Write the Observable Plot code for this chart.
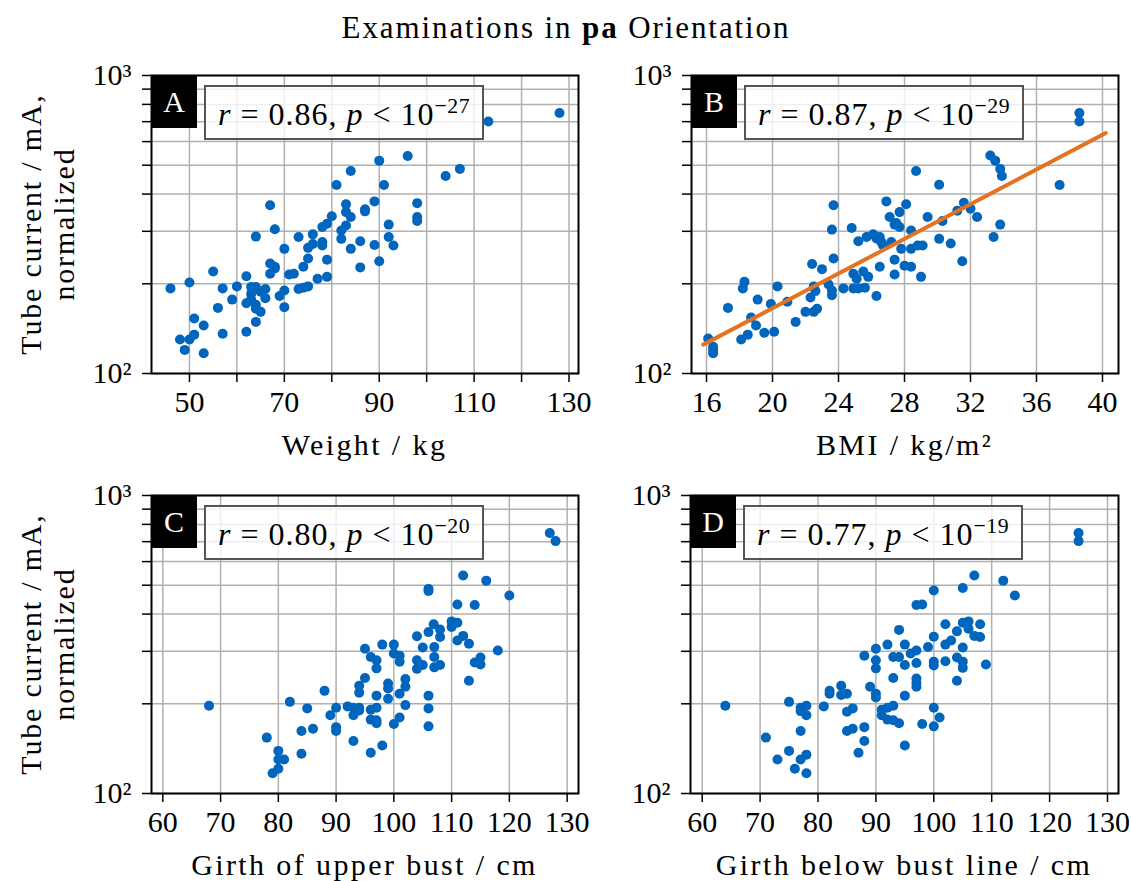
<!DOCTYPE html>
<html>
<head>
<meta charset="utf-8">
<script src="https://cdn.jsdelivr.net/npm/d3@7"></script>
<script src="https://cdn.jsdelivr.net/npm/@observablehq/plot@0.6"></script>
<style>
  html, body { margin: 0; padding: 0; background: #fff; }
  #root { position: relative; width: 1132px; height: 881px; overflow: hidden; font-family: "Liberation Serif", "DejaVu Serif", serif; color: #000; }
  .panel { position: absolute; }
  .title { position: absolute; left: 0; top: 13px; width: 1132px; text-align: center; font-size: 31px; line-height: 30px; letter-spacing: 1.9px; }
  .ylab { position: absolute; width: 340px; text-align: center; font-size: 30px; line-height: 33px; letter-spacing: 1.8px; transform: rotate(-90deg); transform-origin: center center; }
  .xlab { position: absolute; width: 500px; text-align: center; font-size: 30px; line-height: 30px; letter-spacing: 2.4px; white-space: nowrap; }
  .letter { position: absolute; width: 46px; height: 53px; background: #000; color: #fff; font-size: 30px; display: flex; align-items: center; justify-content: center; }
  .stat { position: absolute; width: 280px; height: 55px; box-sizing: border-box; border: 2px solid #555; background: rgba(255,255,255,0.8); font-size: 32px; display: flex; align-items: center; justify-content: center; white-space: nowrap; letter-spacing: 1px; padding-top: 4px; }
  .stat sup { font-size: 0.68em; vertical-align: 0.55em; line-height: 0; letter-spacing: 0.5px; }
</style>
</head>
<body>
<div id="root"></div>
<script>
// ---------------- data ----------------
const titleText = ["Examinations in ", "pa", " Orientation"];
const yLabelLines = ["Tube current / mA,", "normalized"];
const xLabels = ["Weight / kg", "BMI / kg/m²", "Girth of upper bust / cm", "Girth below bust line / cm"];
const panelLetters = ["A", "B", "C", "D"];
const rValues = ["0.86", "0.87", "0.80", "0.77"];
const pExponents = ["−27", "−29", "−20", "−19"];

const yTicks = [100, 200, 300, 400, 500, 600, 700, 800, 900, 1000];
const yTickLabels = {100: "10²", 1000: "10³"};

const xTicksA = [50, 60, 70, 80, 90, 100, 110, 120, 130];
const xTickLabelsA = [50, 70, 90, 110, 130];
const xTicksB = [16, 20, 24, 28, 32, 36, 40];
const xTicksC = [60, 70, 80, 90, 100, 110, 120, 130];
const xTicksD = [60, 70, 80, 90, 100, 110, 120, 130];

// Panel A: weight (kg) vs tube current
const weightA = [113,128,96,90,107,104,84,81,91,67,89,98,87,87,83,83,84,80,79,78,98,98,92,83,82,82,92,93,89,86,84,78,78,76,73,68,64,75,76,70,79,75,74,86,90,67,68,67,68,71,72,77,79,55,50,46,57,60,62,63,64,66,70,69,73,74,75,59,63,66,62,64,65,70,56,51,53,64,51,50,48,49,53,57,62,63,64,65];
const currentA = [701,748,537,518,486,460,478,429,429,367,378,373,356,350,370,348,335,337,318,310,335,325,316,314,302,283,287,269,270,278,262,276,269,293,287,305,288,264,272,262,241,243,228,227,238,234,228,216,225,215,216,208,211,220,202,193,193,196,212,195,195,192,190,182,192,194,196,177,185,179,172,165,161,167,166,153,145,149,135,130,130,120,117,136,138,177,170,188];

// Panel B: BMI vs tube current
const bmiB = [38.6,38.6,33.2,33.5,33.8,33.9,28.7,30.1,37.4,23.7,26.9,28.1,27.7,27.1,27.4,27.7,29.4,30.3,31.6,32.0,31.2,32.4,33.8,33.4,30.1,30.8,31.5,28.4,28.4,28.8,29.1,27.8,23.6,24.8,25.2,25.7,26.1,26.5,26.6,27.2,26.7,23.7,22.4,23.0,26.5,27.4,27.4,28.0,28.4,29.0,24.9,25.5,25.8,25.1,18.3,18.2,20.3,23.4,23.6,23.6,24.3,24.9,25.2,25.6,26.3,22.5,22.6,22.3,19.1,19.9,20.9,17.3,18.7,19.0,19.5,20.1,21.4,22.0,22.5,22.7,18.1,18.5,16.1,16.4,16.4,16.4,27.5,26.3];
const currentB = [748,701,539,518,486,460,478,430,429,367,378,370,348,335,316,310,335,325,374,357,352,335,316,287,283,273,238,302,262,269,269,262,304,308,278,287,293,287,276,276,269,243,233,224,228,241,215,230,228,211,216,220,211,208,203,193,196,199,190,183,193,193,193,194,182,196,189,180,177,171,174,166,154,145,137,138,149,161,161,165,130,135,131,120,117,123,320,284];
// fitted regression line (at its two ends)
const fitBmi = [15.8, 40.2];
const fitCurrent = [125, 641];

// Panel C: girth of upper bust (cm) vs tube current
const upperBustC = [127,128,112,116,106,106,120,111,114,110,111,110,111,112,113,106.9,108,106,108,104,105,107,118,115,114,115,113,104,105,104,107,107,108,95,98,100,100,101,101,96,97,97,95,94,94,99,99,99,97,101,102,102,106,106,106,102,101,100,88,82,68,85,90,89,92,93,94,93,96,97,96,97,97,90,90,84,86,78,93,98,96,84,80,80,81,80,79,94];
const currentC = [748,703,539,518,486,478,462,431,429,378,374,362,326,338,318,370,355,348,335,337,309,310,302,286,275,271,239,280,270,262,287,265,270,306,316,316,295,290,277,287,280,263,244,230,218,234,225,208,213,216,242,228,213,193,168,198,180,171,221,203,197,193,194,183,196,194,194,183,191,194,177,176,172,167,162,162,165,154,150,145,137,136,139,130,130,121,117,190];

// Panel D: girth below bust line (cm) vs tube current
const belowBustD = [125,125,107,112,105,100,114,97,98,94,102,105,106,108,106,104,100,107,108,103,102,105,99,92,95,97,96,90,88,93,94,90,90,95,97,100,100,102,104,105,105,109,104,93,97,97,97,95,89,90,90,84,85,84,82,82,75,77,78,78,81,85,86,64,91,92,93,91,92,93,94,100,101,100,98,77,88,85,86,88,95,87,71,75,77,78,73,76,78,77];
const currentD = [748,703,539,518,489,480,462,429,431,354,370,374,378,370,357,350,336,338,335,326,316,309,310,316,316,302,295,306,290,287,287,280,263,270,274,277,269,278,286,277,264,271,239,244,243,235,228,213,228,216,210,230,216,214,221,216,203,194,197,183,196,188,193,197,191,194,197,183,177,176,172,194,180,168,171,162,167,162,165,150,145,137,154,139,130,135,130,121,117,189];

// ---------------- layout & style ----------------
const BLUE = "#0065BD", ORANGE = "#E37222", GRID = "#b0b0b0";
const FONT = "'Liberation Serif', 'DejaVu Serif', serif";

const panels = [
  {xs: weightA, ys: currentA, xDomain: [42, 132], xTicks: xTicksA, xTickLabels: xTickLabelsA,
   left: 0, top: 60, width: 600, marginLeft: 151, marginRight: 22, yLabel: true},
  {xs: bmiB, ys: currentB, xDomain: [15.09, 40.97], xTicks: xTicksB, xTickLabels: xTicksB,
   left: 600, top: 60, width: 532, marginLeft: 91, marginRight: 14, yLabel: false,
   fit: fitBmi.map((x, i) => ({x, y: fitCurrent[i]}))},
  {xs: upperBustC, ys: currentC, xDomain: [58.04, 131.97], xTicks: xTicksC, xTickLabels: xTicksC,
   left: 0, top: 480, width: 600, marginLeft: 151, marginRight: 22, yLabel: true},
  {xs: belowBustD, ys: currentD, xDomain: [57.98, 131.9], xTicks: xTicksD, xTickLabels: xTicksD,
   left: 600, top: 480, width: 532, marginLeft: 90, marginRight: 14, yLabel: false}
];
const H = 400, MT = 15, MB = 87;

const root = document.getElementById("root");

// title
const title = document.createElement("div");
title.className = "title";
title.innerHTML = `${titleText[0]}<b>${titleText[1]}</b>${titleText[2]}`;
root.appendChild(title);

panels.forEach((cfg, i) => {
  const pts = cfg.xs.map((x, j) => ({x, y: cfg.ys[j]}));
  const marks = [
    Plot.gridX(cfg.xTicks, {stroke: GRID, strokeOpacity: 1, strokeWidth: 1.5}),
    Plot.gridY(yTicks, {stroke: GRID, strokeOpacity: 1, strokeWidth: 1.5}),
    Plot.dot(pts, {x: "x", y: "y", r: 5, fill: BLUE})
  ];
  if (cfg.fit) marks.push(Plot.line(cfg.fit, {x: "x", y: "y", stroke: ORANGE, strokeWidth: 4}));
  marks.push(
    Plot.axisX(cfg.xTicks, {tickSize: 9, tickPadding: 8, strokeWidth: 1.5, fontSize: 30, label: null,
      tickFormat: d => cfg.xTickLabels.includes(d) ? String(d) : ""}),
    Plot.axisY(yTicks, {tickSize: 9, tickPadding: 11, strokeWidth: 1.5, fontSize: 30, label: null,
      tickFormat: d => yTickLabels[d] || ""}),
    Plot.frame({stroke: "black", strokeWidth: 2})
  );
  const svg = Plot.plot({
    width: cfg.width, height: H,
    marginLeft: cfg.marginLeft, marginRight: cfg.marginRight, marginTop: MT, marginBottom: MB,
    x: {domain: cfg.xDomain},
    y: {type: "log", domain: [100, 1000]},
    style: {fontFamily: FONT, fontSize: "30px", color: "#000", background: "transparent", overflow: "visible"},
    marks
  });
  const wrap = document.createElement("div");
  wrap.className = "panel";
  wrap.style.left = cfg.left + "px";
  wrap.style.top = cfg.top + "px";
  wrap.appendChild(svg);
  root.appendChild(wrap);

  const fl = cfg.left + cfg.marginLeft;            // frame left
  const fr = cfg.left + cfg.width - cfg.marginRight; // frame right
  const ft = cfg.top + MT;                         // frame top
  const fb = cfg.top + H - MB;                     // frame bottom

  // panel letter
  const let_ = document.createElement("div");
  let_.className = "letter";
  let_.style.left = fl + "px"; let_.style.top = ft + "px";
  let_.textContent = panelLetters[i];
  root.appendChild(let_);

  // stats box
  const st = document.createElement("div");
  st.className = "stat";
  st.style.left = (fl + 53) + "px"; st.style.top = (ft + 10) + "px";
  st.innerHTML = `<span><i>r</i> = ${rValues[i]}, <i>p</i> &lt; 10<sup>${pExponents[i]}</sup></span>`;
  root.appendChild(st);

  // x label
  const xl = document.createElement("div");
  xl.className = "xlab";
  xl.style.left = ((fl + fr) / 2 - 250) + "px";
  xl.style.top = (fb + 57) + "px";
  xl.textContent = xLabels[i];
  root.appendChild(xl);

  // y label
  if (cfg.yLabel) {
    const yl = document.createElement("div");
    yl.className = "ylab";
    yl.innerHTML = yLabelLines.join("<br>");
    const cx = 47, cy = (ft + fb) / 2;
    yl.style.left = (cx - 170) + "px";
    yl.style.top = (cy - 33) + "px";
    root.appendChild(yl);
  }
});
</script>
</body>
</html>
